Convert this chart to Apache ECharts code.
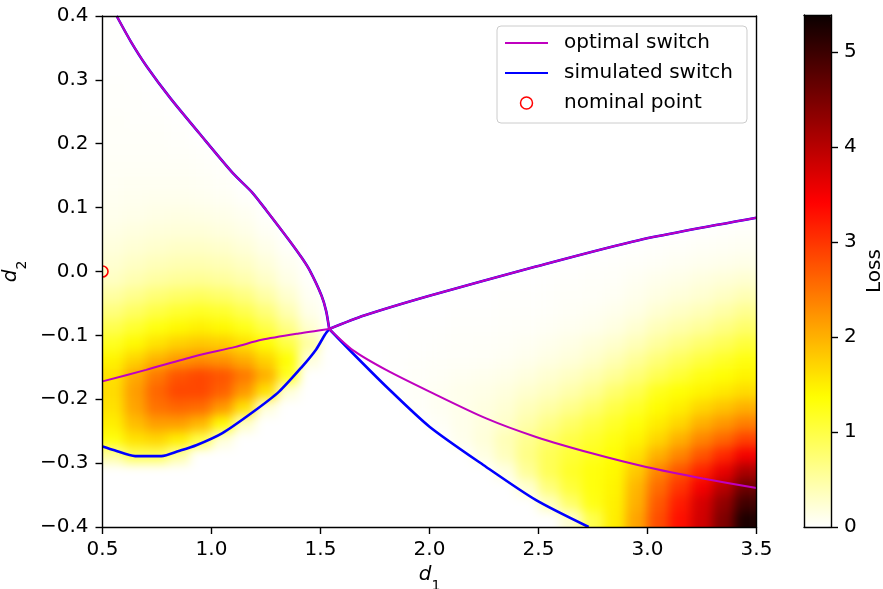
<!DOCTYPE html>
<html><head><meta charset="utf-8">
<script src="https://cdn.jsdelivr.net/npm/echarts@6/dist/echarts.min.js"></script>
<style>html,body{margin:0;padding:0;background:#fff}#c{width:883px;height:589px;isolation:isolate}</style>
</head><body><div id="c"></div>
<script>
// ---- tick labels ----
const xTickValues = [0.5, 1.0, 1.5, 2.0, 2.5, 3.0, 3.5];
const yTickValues = [-0.4, -0.3, -0.2, -0.1, 0.0, 0.1, 0.2, 0.3, 0.4];
const colorbarTicks = [0, 1, 2, 3, 4, 5];
const lossMax = 5.39;

// ---- heatmap cell centres (categories) ----
const d1Centers = [0.55,0.65,0.75,0.85,0.95,1.05,1.15,1.25,1.35,1.45,1.55,1.65,1.75,1.85,1.95,2.05,2.15,2.25,2.35,2.45,2.55,2.65,2.75,2.85,2.95,3.05,3.15,3.25,3.35,3.45];
const d2Centers = [-0.3875,-0.3625,-0.3375,-0.3125,-0.2875,-0.2625,-0.2375,-0.2125,-0.1875,-0.1625,-0.1375,-0.1125,-0.0875,-0.0625,-0.0375,-0.0125,0.0125,0.0375,0.0625,0.0875,0.1125,0.1375,0.1625,0.1875,0.2125,0.2375,0.2625,0.2875,0.3125,0.3375,0.3625,0.3875];

// ---- loss values, rows listed from top (d2=0.3875) to bottom (d2=-0.3875) ----
const lossRows = [
[0.01,0,0,0,0,0,0,0,0,0, 0,0,0,0,0,0,0,0,0,0, 0,0,0,0,0,0,0,0,0,0],
[0.01,0,0,0,0,0,0,0,0,0, 0,0,0,0,0,0,0,0,0,0, 0,0,0,0,0,0,0,0,0,0],
[0.01,0,0,0,0,0,0,0,0,0, 0,0,0,0,0,0,0,0,0,0, 0,0,0,0,0,0,0,0,0,0],
[0.01,0.01,0,0,0,0,0,0,0,0, 0,0,0,0,0,0,0,0,0,0, 0,0,0,0,0,0,0,0,0,0],
[0.02,0.01,0,0,0,0,0,0,0,0, 0,0,0,0,0,0,0,0,0,0, 0,0,0,0,0,0,0,0,0,0],
[0.02,0.02,0.01,0,0,0,0,0,0,0, 0,0,0,0,0,0,0,0,0,0, 0,0,0,0,0,0,0,0,0,0],
[0.03,0.02,0.02,0.01,0,0,0,0,0,0, 0,0,0,0,0,0,0,0,0,0, 0,0,0,0,0,0,0,0,0,0],
[0.03,0.03,0.03,0.02,0,0,0,0,0,0, 0,0,0,0,0,0,0,0,0,0, 0,0,0,0,0,0,0,0,0,0],
[0.04,0.04,0.04,0.03,0.02,0,0,0,0,0, 0,0,0,0,0,0,0,0,0,0, 0,0,0,0,0,0,0,0,0,0],
[0.05,0.05,0.05,0.05,0.04,0.02,0,0,0,0, 0,0,0,0,0,0,0,0,0,0, 0,0,0,0,0,0,0,0,0,0],
[0.06,0.07,0.07,0.07,0.06,0.04,0,0,0,0, 0,0,0,0,0,0,0,0,0,0, 0,0,0,0,0,0,0,0,0,0],
[0.08,0.09,0.1,0.1,0.09,0.07,0.03,0,0,0, 0,0,0,0,0,0,0,0,0,0, 0,0,0,0,0,0,0,0,0,0],
[0.1,0.12,0.14,0.15,0.14,0.12,0.08,0.02,0,0, 0,0,0,0,0,0,0,0,0,0, 0,0,0,0,0,0,0,0,0,0],
[0.14,0.17,0.2,0.21,0.21,0.18,0.13,0.06,0,0, 0,0,0,0,0,0,0,0,0,0, 0,0,0,0,0,0,0,0.01,0.02,0.03],
[0.19,0.23,0.27,0.3,0.3,0.27,0.21,0.12,0.03,0, 0,0,0,0,0,0,0,0,0,0, 0,0,0,0,0.01,0.02,0.03,0.05,0.06,0.07],
[0.25,0.31,0.37,0.41,0.42,0.39,0.31,0.2,0.08,0, 0,0,0,0,0,0,0,0,0,0, 0,0,0.01,0.02,0.03,0.05,0.07,0.09,0.11,0.13],
[0.33,0.42,0.5,0.55,0.57,0.53,0.44,0.3,0.14,0.02, 0,0,0,0,0,0,0,0,0,0, 0.01,0.02,0.03,0.04,0.07,0.1,0.13,0.17,0.21,0.25],
[0.5,0.62,0.74,0.82,0.86,0.8,0.68,0.48,0.26,0.06, 0,0,0,0,0,0,0,0,0.01,0.01, 0.02,0.03,0.04,0.06,0.1,0.15,0.2,0.25,0.32,0.4],
[0.7,0.85,1.0,1.12,1.18,1.12,0.95,0.72,0.42,0.12, 0,0,0,0,0,0,0.01,0.01,0.02,0.02, 0.03,0.05,0.07,0.1,0.15,0.24,0.31,0.38,0.48,0.6],
[0.95,1.12,1.3,1.42,1.48,1.42,1.25,0.98,0.65,0.25, 0,0,0,0,0.01,0.01,0.02,0.02,0.03,0.04, 0.06,0.08,0.11,0.16,0.25,0.37,0.46,0.55,0.67,0.8],
[1.2,1.42,1.6,1.75,1.82,1.78,1.62,1.38,1.0,0.5, 0,0,0,0.01,0.01,0.02,0.03,0.04,0.05,0.07, 0.1,0.14,0.2,0.27,0.38,0.53,0.65,0.78,0.9,1.05],
[1.45,1.72,1.98,2.18,2.28,2.22,2.02,1.72,1.35,0.2, 0,0,0,0.01,0.02,0.03,0.04,0.05,0.07,0.1, 0.15,0.2,0.28,0.4,0.55,0.72,0.87,1.02,1.15,1.28],
[1.6,2.05,2.45,2.75,2.85,2.75,2.45,2.0,1.2,0, 0,0,0,0.01,0.03,0.05,0.07,0.09,0.12,0.17, 0.24,0.32,0.42,0.56,0.72,0.92,1.08,1.25,1.35,1.45],
[1.65,2.15,2.6,2.85,2.85,2.65,2.2,1.6,0.2,0, 0,0,0,0.01,0.04,0.07,0.1,0.13,0.18,0.26, 0.34,0.45,0.58,0.78,0.95,1.22,1.35,1.45,1.55,1.65],
[1.6,2.1,2.5,2.6,2.55,2.2,1.6,0.2,0,0, 0,0,0,0,0.03,0.07,0.11,0.16,0.23,0.36, 0.48,0.62,0.78,0.98,1.15,1.38,1.5,1.7,1.85,2.0],
[1.5,1.9,2.15,2.15,1.95,1.4,0.3,0,0,0, 0,0,0,0,0,0.05,0.11,0.18,0.28,0.46, 0.64,0.82,0.98,1.15,1.32,1.52,1.7,2.0,2.2,2.4],
[1.3,1.6,1.7,1.5,1.0,0.2,0,0,0,0, 0,0,0,0,0,0,0.1,0.2,0.38,0.6, 0.8,0.98,1.12,1.28,1.45,1.7,2.0,2.35,2.6,2.9],
[0.5,0.9,0.9,0.5,0,0,0,0,0,0, 0,0,0,0,0,0,0,0.15,0.35,0.65, 0.9,1.08,1.22,1.36,1.6,2.0,2.35,2.75,3.1,3.5],
[0,0,0,0,0,0,0,0,0,0, 0,0,0,0,0,0,0,0,0.15,0.55, 0.9,1.15,1.3,1.42,1.8,2.35,2.75,3.15,3.6,4.1],
[0,0,0,0,0,0,0,0,0,0, 0,0,0,0,0,0,0,0,0,0.25, 0.7,1.05,1.3,1.45,1.95,2.55,3.0,3.5,4.0,4.6],
[0,0,0,0,0,0,0,0,0,0, 0,0,0,0,0,0,0,0,0,0, 0.35,0.8,1.25,1.48,2.0,2.7,3.2,3.75,4.3,4.95],
[0,0,0,0,0,0,0,0,0,0, 0,0,0,0,0,0,0,0,0,0, 0,0.25,0.95,1.5,2.1,2.8,3.3,3.8,4.45,5.25]
];

// ---- switch curves: [d1, d2] ----
const optimalUpperLeft = [[0.565,0.4],[0.63,0.36],[0.703,0.321],[0.812,0.271],[0.945,0.216],[1.098,0.154],[1.186,0.124],[1.251,0.096],[1.356,0.049],[1.415,0.021],[1.45,0.002],[1.505,-0.038],[1.526,-0.062],[1.54,-0.09]];
const optimalLeft = [[0.5,-0.172],[0.7,-0.154],[0.92,-0.133],[1.11,-0.118],[1.23,-0.107],[1.4,-0.097],[1.54,-0.09]];
const optimalUpperRight = [[1.54,-0.09],[1.7,-0.069],[2.0,-0.038],[2.48,0.007],[2.96,0.049],[3.5,0.084]];
const optimalLowerRight = [[1.54,-0.09],[1.648,-0.123],[1.801,-0.154],[2.0,-0.188],[2.26,-0.23],[2.489,-0.259],[2.749,-0.285],[2.994,-0.306],[3.254,-0.324],[3.5,-0.339]];
const simulatedUpperLeft = [[0.565,0.4],[0.63,0.36],[0.703,0.321],[0.812,0.271],[0.945,0.216],[1.098,0.154],[1.186,0.124],[1.251,0.096],[1.356,0.049],[1.415,0.021],[1.45,0.002],[1.505,-0.038],[1.526,-0.062],[1.54,-0.09]];
const simulatedLowerLeft = [[0.5,-0.274],[0.555,-0.28],[0.65,-0.289],[0.77,-0.289],[0.85,-0.281],[0.93,-0.272],[1.05,-0.253],[1.19,-0.22],[1.31,-0.188],[1.413,-0.15],[1.48,-0.122],[1.52,-0.099],[1.54,-0.09]];
const simulatedUpperRight = [[1.54,-0.09],[1.7,-0.069],[2.0,-0.038],[2.48,0.007],[2.96,0.049],[3.5,0.084]];
const simulatedLowerRight = [[1.54,-0.09],[1.648,-0.128],[1.801,-0.18],[2.0,-0.243],[2.26,-0.306],[2.489,-0.358],[2.73,-0.4]];
const nominalPoint = [[0.5, 0.0]];

// ---- colormap (matplotlib hot_r) ----
function hotR(t) {
  const s = 1 - t;
  const r = s < 0.365079 ? 0.0416 + (1 - 0.0416) * s / 0.365079 : 1;
  const g = Math.max(0, Math.min(1, (s - 0.365079) / 0.380953));
  const b = Math.max(0, Math.min(1, (s - 0.746032) / 0.253968));
  return 'rgb(' + Math.round(r * 255) + ',' + Math.round(g * 255) + ',' + Math.round(b * 255) + ')';
}
const hotColors = [];
for (let i = 0; i <= 100; i++) hotColors.push(hotR(i / 100));

// plot rectangle
const GL = 102.5, GT = 16, GW = 654, GH = 511;
const NX = d1Centers.length, NY = d2Centers.length;
const cellW = GW / NX, cellH = GH / NY;

// heatmap grid carries one edge-repeat cell on each side (hidden by clipping) so smoothing keeps edge colours
const heatData = [];
for (let xe = 0; xe < NX + 2; xe++) {
  for (let ye = 0; ye < NY + 2; ye++) {
    const xi = Math.min(NX - 1, Math.max(0, xe - 1));
    const yi = Math.min(NY - 1, Math.max(0, ye - 1));
    heatData.push([xe, ye, lossRows[NY - 1 - yi][xi]]);
  }
}
const heatXCats = [], heatYCats = [];
for (let i = 0; i < NX + 2; i++) heatXCats.push('x' + i);
for (let i = 0; i < NY + 2; i++) heatYCats.push('y' + i);

const FONT = 'DejaVu Sans';
const FS = 20;
const fmtY = v => Math.abs(v) < 1e-9 ? '0.0' : (v < 0 ? '\u2212' + (-v).toFixed(1) : v.toFixed(1));
const frameAxis = (gridIndex, position, extra) => Object.assign({
  type: 'value', gridIndex, position, z: 10,
  axisLine: { show: true, onZero: false, lineStyle: { color: '#000', width: 1.4 } },
  axisTick: { show: false }, axisLabel: { show: false }, splitLine: { show: false }
}, extra || {});

const blueStyle = { color: '#0000ff', width: 2.6 };
const magStyle = { color: '#bf00bf', width: 2 };
const lineSeries = (name, data, style, z) => ({
  type: 'line', name, data, xAxisIndex: 0, yAxisIndex: 0, symbol: 'none', showSymbol: false,
  smooth: 0.25,
  lineStyle: style, itemStyle: { color: style.color }, z, silent: true, animation: false
});
const lineIcon = 'path://M0,0 H43 V2 H0 Z';

const chart = echarts.init(document.getElementById('c'), null, { renderer: 'canvas' });
chart.setOption({
  animation: false,
  backgroundColor: 'transparent',
  textStyle: { fontFamily: FONT },
  grid: [
    { left: GL, top: GT, width: GW, height: GH, outerBoundsMode: 'none', containLabel: false },
    { left: GL - cellW, top: GT - cellH, width: GW + 2 * cellW, height: GH + 2 * cellH, outerBoundsMode: 'none', containLabel: false },
    { left: 804, top: 15, width: 27, height: 512, outerBoundsMode: 'none', containLabel: false }
  ],
  xAxis: [
    { type: 'value', gridIndex: 0, position: 'bottom', min: 0.5, max: 3.5, z: 10,
      name: '{i|d}{s|1}', nameLocation: 'middle', nameGap: 36,
      nameTextStyle: { rich: { i: { fontFamily: FONT, fontStyle: 'italic', fontSize: FS, lineHeight: 28, verticalAlign: 'top', color: '#000' },
                               s: { fontFamily: FONT, fontSize: 14, lineHeight: 28, verticalAlign: 'bottom', color: '#000' } } },
      axisLine: { show: true, onZero: false, lineStyle: { color: '#000', width: 1.4 } },
      axisTick: { show: true, inside: false, length: 7, lineStyle: { color: '#000', width: 1.4 }, customValues: xTickValues },
      axisLabel: { color: '#000', fontSize: FS, fontFamily: FONT, margin: 13, customValues: xTickValues, formatter: v => v.toFixed(1) },
      splitLine: { show: false } },
    frameAxis(0, 'top', { min: 0.5, max: 3.5 }),
    { type: 'category', gridIndex: 1, data: heatXCats, show: false },
    frameAxis(2, 'bottom', { min: 0, max: 1 }),
    frameAxis(2, 'top', { min: 0, max: 1 })
  ],
  yAxis: [
    { type: 'value', gridIndex: 0, position: 'left', min: -0.4, max: 0.4, z: 10,
      name: '{i|d}{s|2}', nameLocation: 'middle', nameGap: 62, nameRotate: 90,
      nameTextStyle: { rich: { i: { fontFamily: FONT, fontStyle: 'italic', fontSize: FS, lineHeight: 28, verticalAlign: 'top', color: '#000' },
                               s: { fontFamily: FONT, fontSize: 14, lineHeight: 28, verticalAlign: 'bottom', color: '#000' } } },
      axisLine: { show: true, onZero: false, lineStyle: { color: '#000', width: 1.4 } },
      axisTick: { show: true, inside: false, length: 7, lineStyle: { color: '#000', width: 1.4 }, customValues: yTickValues },
      axisLabel: { color: '#000', fontSize: FS, fontFamily: FONT, margin: 14, customValues: yTickValues, formatter: fmtY },
      splitLine: { show: false } },
    frameAxis(0, 'right', { min: -0.4, max: 0.4 }),
    { type: 'category', gridIndex: 1, data: heatYCats, show: false },
    frameAxis(2, 'left', { min: 0, max: lossMax }),
    { type: 'value', gridIndex: 2, position: 'right', min: 0, max: lossMax, z: 10,
      name: 'Loss', nameLocation: 'middle', nameGap: 34, nameRotate: 90,
      nameTextStyle: { color: '#000', fontSize: FS, fontFamily: FONT },
      axisLine: { show: true, onZero: false, lineStyle: { color: '#000', width: 1.4 } },
      axisTick: { show: true, inside: false, length: 7, lineStyle: { color: '#000', width: 1.4 }, customValues: colorbarTicks },
      axisLabel: { color: '#000', fontSize: FS, fontFamily: FONT, margin: 13, customValues: colorbarTicks, formatter: v => String(Math.round(v)) },
      splitLine: { show: false } }
  ],
  visualMap: {
    type: 'continuous', seriesIndex: 0, dimension: 2, min: 0, max: lossMax,
    left: 804, top: 15, itemWidth: 27, itemHeight: 512, padding: 0,
    calculable: false, hoverLink: false, show: true, realtime: false,
    inRange: { color: hotColors }, textStyle: { fontSize: 0 }
  },
  legend: {
    left: 497, top: 26, orient: 'vertical', selectedMode: false,
    backgroundColor: 'rgba(255,255,255,0.85)', borderColor: '#cccccc', borderWidth: 1, borderRadius: 4,
    padding: [7, 14, 10, 8], itemWidth: 43, itemHeight: 12, itemGap: 10,
    textStyle: { fontSize: FS, fontFamily: FONT, color: '#000', lineHeight: 20, padding: [0, 0, 0, 11] },
    data: [
      { name: 'optimal switch', icon: lineIcon, itemStyle: { color: '#bf00bf' } },
      { name: 'simulated switch', icon: lineIcon, itemStyle: { color: '#0000ff' } },
      { name: 'nominal point', icon: 'circle', itemStyle: { color: 'rgba(0,0,0,0)', borderColor: '#ff0000', borderWidth: 1.5 } }
    ]
  },
  series: [
    { type: 'heatmap', xAxisIndex: 2, yAxisIndex: 2, data: heatData, z: 1, zlevel: -1, silent: true,
      emphasis: { disabled: true }, progressive: 0, animation: false },
    lineSeries('simulated switch', simulatedUpperLeft, blueStyle, 3),
    lineSeries('simulated switch', simulatedLowerLeft, blueStyle, 3),
    lineSeries('simulated switch', simulatedUpperRight, blueStyle, 3),
    lineSeries('simulated switch', simulatedLowerRight, blueStyle, 3),
    lineSeries('optimal switch', optimalUpperLeft, magStyle, 4),
    lineSeries('optimal switch', optimalLeft, magStyle, 4),
    lineSeries('optimal switch', optimalUpperRight, magStyle, 4),
    lineSeries('optimal switch', optimalLowerRight, magStyle, 4),
    { type: 'custom', name: 'nominal point', xAxisIndex: 0, yAxisIndex: 0, clip: true, z: 5, silent: true,
      data: nominalPoint,
      renderItem: (params, api) => {
        const p = api.coord([api.value(0), api.value(1)]);
        return { type: 'circle', shape: { cx: p[0], cy: p[1], r: 5.5 },
                 style: { fill: 'none', stroke: '#ff0000', lineWidth: 1.6 } };
      } }
  ]
});

// smooth the heatmap layer (like shading='gouraud') and clip it to the plot rectangle
(function () {
  const canvases = document.querySelectorAll('#c canvas');
  let heatCanvas = document.querySelector('#c canvas[data-zr-dom-id="zr_-1"]');
  if (!heatCanvas && canvases.length > 1) heatCanvas = canvases[0];
  if (heatCanvas) {
    heatCanvas.style.filter = 'blur(5.5px)';
    const W = 883, H = 589;
    heatCanvas.style.clipPath = 'inset(' + GT + 'px ' + (W - GL - GW) + 'px ' + (H - GT - GH) + 'px ' + GL + 'px)';
  }
})();
</script></body></html>
